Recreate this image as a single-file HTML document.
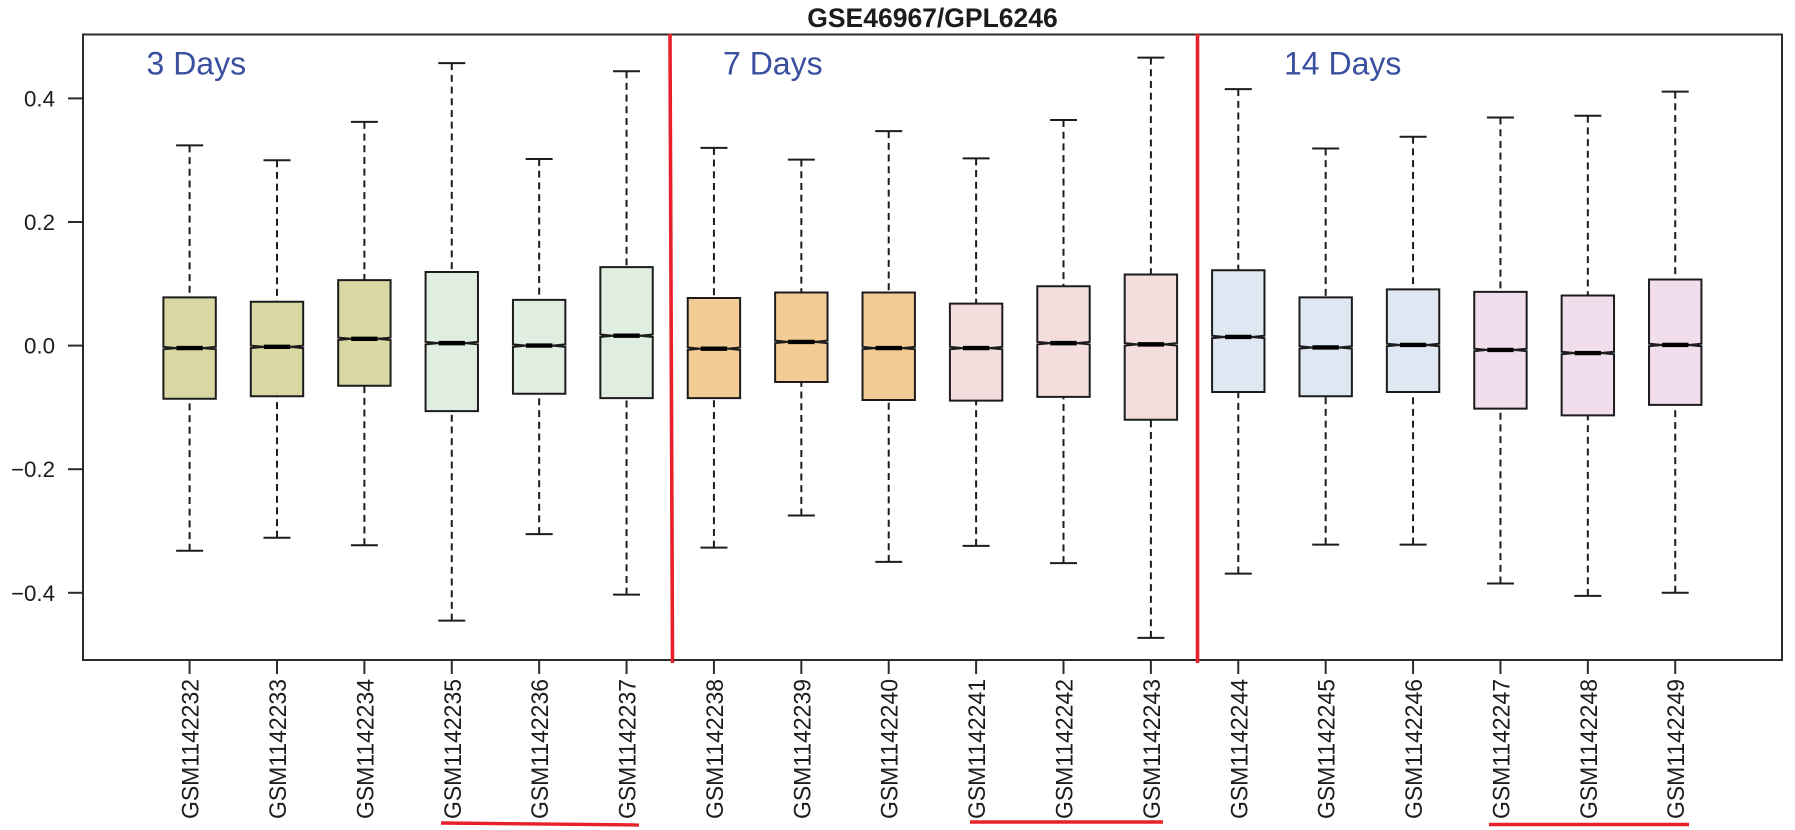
<!DOCTYPE html>
<html lang="en">
<head>
<meta charset="utf-8">
<title>GSE46967/GPL6246 boxplot</title>
<style>
html,body{margin:0;padding:0;background:#fff;}
svg{display:block;font-family:"Liberation Sans",Arial,sans-serif;}
</style>
</head>
<body>
<svg id="chart" width="1795" height="830" viewBox="0 0 1795 830" xmlns="http://www.w3.org/2000/svg">
  <rect x="0" y="0" width="1795" height="830" fill="#ffffff"/>
  <text x="932.5" y="27" font-size="26.5" font-weight="bold" text-anchor="middle" fill="#1c1c1c">GSE46967/GPL6246</text>
  <g id="marks"></g>
  <rect x="83" y="34.5" width="1699" height="625.5" fill="none" stroke="#2b2b2b" stroke-width="2"/>
  <g id="axes"></g>
  <line x1="670" y1="34" x2="672.5" y2="663" stroke="#e8202a" stroke-width="3.6"/>
  <line x1="1197.5" y1="34" x2="1197.5" y2="663" stroke="#e8202a" stroke-width="3.6"/>
  <text x="146.5" y="74.5" font-size="32" fill="#3a4fa0">3 Days</text>
  <text x="723" y="74.5" font-size="32" fill="#3a4fa0">7 Days</text>
  <text x="1284" y="74.5" font-size="32" fill="#3a4fa0">14 Days</text>
  <line x1="441" y1="823" x2="639" y2="825" stroke="#e8202a" stroke-width="3.4"/>
  <line x1="970" y1="822" x2="1163" y2="822" stroke="#e8202a" stroke-width="3.4"/>
  <line x1="1489" y1="824.5" x2="1689" y2="824.5" stroke="#e8202a" stroke-width="3.4"/>
</svg>
<script>
const categories = ["GSM1142232","GSM1142233","GSM1142234","GSM1142235","GSM1142236","GSM1142237","GSM1142238","GSM1142239","GSM1142240","GSM1142241","GSM1142242","GSM1142243","GSM1142244","GSM1142245","GSM1142246","GSM1142247","GSM1142248","GSM1142249"];
const whiskerHigh = [0.324,0.300,0.362,0.457,0.302,0.444,0.320,0.301,0.347,0.303,0.365,0.466,0.415,0.319,0.338,0.369,0.372,0.411];
const boxHigh = [0.078,0.071,0.106,0.119,0.074,0.127,0.077,0.086,0.086,0.068,0.096,0.115,0.122,0.078,0.091,0.087,0.081,0.107];
const medians = [-0.004,-0.002,0.011,0.004,0.000,0.016,-0.005,0.006,-0.004,-0.004,0.004,0.002,0.014,-0.003,0.001,-0.007,-0.012,0.001];
const boxLow = [-0.086,-0.082,-0.065,-0.106,-0.078,-0.085,-0.085,-0.059,-0.088,-0.089,-0.083,-0.120,-0.075,-0.082,-0.075,-0.102,-0.113,-0.096];
const whiskerLow = [-0.332,-0.311,-0.323,-0.445,-0.305,-0.403,-0.327,-0.275,-0.350,-0.324,-0.352,-0.473,-0.369,-0.322,-0.322,-0.385,-0.405,-0.400];
const groupColors = ["#d9d8a2","#d9d8a2","#d9d8a2","#e0eee2","#e0eee2","#e0eee2","#f2cb95","#f2cb95","#f2cb95","#f3dedd","#f3dedd","#f3dedd","#dfe8f2","#dfe8f2","#dfe8f2","#f2dded","#f2dded","#f2dded"];
const yTicks = [-0.4,-0.2,0,0.2,0.4];
const yTickLabels = ["\u22120.4","\u22120.2","0.0","0.2","0.4"];
const notchDepth = 0.002;

function xScale(i){ return 189.6 + 87.39 * i; }
function yScale(v){ return 345.6 - 618 * v; }

const NS = "http://www.w3.org/2000/svg";
function make(tag, attrs, parent){
  const el = document.createElementNS(NS, tag);
  for (const k in attrs) el.setAttribute(k, attrs[k]);
  parent.appendChild(el);
  return el;
}

const marks = document.getElementById("marks");
const axes = document.getElementById("axes");
const boxW = 52.4, capW = 27, medW = 26.5, notchW = (boxW - medW) / 2;

categories.forEach(function(name, i){
  const x = xScale(i), l = x - boxW / 2, r = x + boxW / 2;
  const g = make("g", {}, marks);
  
  

  const upper = make("line", {x1:x, y1:yScale(whiskerHigh[i]), x2:x, y2:yScale(boxHigh[i]), stroke:"#1c1c1c", "stroke-width":2, "stroke-dasharray":"7 4.7"}, g);
  
  

  const lower = make("line", {x1:x, y1:yScale(whiskerLow[i]), x2:x, y2:yScale(boxLow[i]), stroke:"#1c1c1c", "stroke-width":2, "stroke-dasharray":"7 4.7"}, g);
  
  

  const capTop = make("line", {x1:x - capW / 2, y1:yScale(whiskerHigh[i]), x2:x + capW / 2, y2:yScale(whiskerHigh[i]), stroke:"#1c1c1c", "stroke-width":2}, g);
  
  

  const capBottom = make("line", {x1:x - capW / 2, y1:yScale(whiskerLow[i]), x2:x + capW / 2, y2:yScale(whiskerLow[i]), stroke:"#1c1c1c", "stroke-width":2}, g);
  
  

  const yT = yScale(boxHigh[i]), yB = yScale(boxLow[i]), yM = yScale(medians[i]);
  const nT = yScale(medians[i] + notchDepth), nB = yScale(medians[i] - notchDepth);
  const pts = [[l,yT],[r,yT],[r,nT],[r - notchW,yM],[r,nB],[r,yB],[l,yB],[l,nB],[l + notchW,yM],[l,nT]];
  const box = make("polygon", {points:pts.map(function(p){return p.join(",");}).join(" "), fill:groupColors[i], stroke:"#1c1c1c", "stroke-width":2, "stroke-linejoin":"miter"}, g);
  
  

  const med = make("line", {x1:x - medW / 2, y1:yM, x2:x + medW / 2, y2:yM, stroke:"#000000", "stroke-width":4.4}, g);
  
  

  const tick = make("line", {x1:x, y1:660, x2:x, y2:674, stroke:"#2b2b2b", "stroke-width":2}, axes);
  
  

  const lab = make("text", {transform:"translate(" + (x + 9) + ",679) rotate(-90)", "text-anchor":"end", "font-size":24, textLength:140, lengthAdjust:"spacingAndGlyphs", fill:"#1c1c1c"}, axes);
  
  
  lab.textContent = name;
});

yTicks.forEach(function(v, i){
  const y = yScale(v);
  const tick = make("line", {x1:68, y1:y, x2:83, y2:y, stroke:"#2b2b2b", "stroke-width":2}, axes);
  
  

  const lab = make("text", {x:55, y:y + 8, "text-anchor":"end", "font-size":22.3, fill:"#1c1c1c"}, axes);
  
  
  lab.textContent = yTickLabels[i];
});
</script>
</body>
</html>
